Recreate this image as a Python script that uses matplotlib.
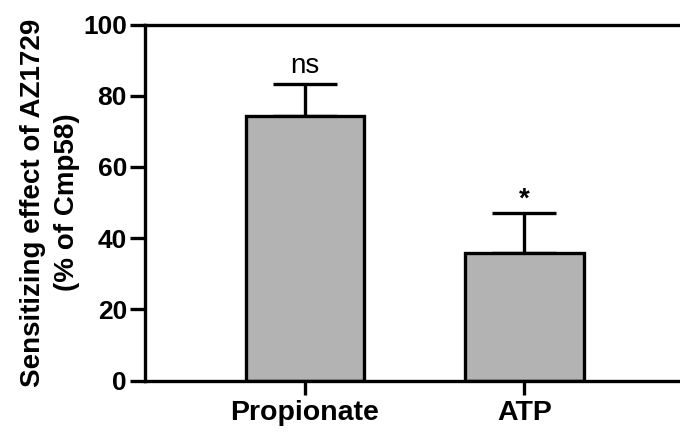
import matplotlib
matplotlib.use("Agg")
import matplotlib.pyplot as plt

categories = ["Propionate", "ATP"]
values = [74.2, 35.8]
errors = [9.1, 11.4]
labels = ["ns", "*"]

plt.rcParams['font.family'] = ['Liberation Sans', 'DejaVu Sans']

fig = plt.figure(figsize=(6.8, 4.32), dpi=100)
ax = fig.add_axes([145/680, 1 - 380.7/432, 1 - 145/680, (380.7 - 24.5)/432])

x = list(range(len(categories)))
ax.bar(x, values, width=0.54, color='#b3b3b3', edgecolor='black', linewidth=2.4, zorder=2)
ax.errorbar(x, values, yerr=[[0]*len(errors), errors], fmt='none', ecolor='black',
            elinewidth=2.4, capsize=23, capthick=2.4, zorder=1)

ax.set_xlim(-0.73, 1.71)
ax.set_ylim(0, 100)
ax.set_yticks([0, 20, 40, 60, 80, 100])
ax.set_xticks(x)
ax.set_xticklabels(categories, fontsize=20.5, fontweight='bold')
for lab in ax.get_yticklabels():
    lab.set_fontsize(19)
    lab.set_fontweight('bold')

for s in ['left', 'bottom', 'top']:
    ax.spines[s].set_linewidth(2.4)
ax.spines['right'].set_visible(False)
ax.tick_params(axis='y', length=11, width=2.4, pad=2)
ax.tick_params(axis='x', length=10, width=2.4, pad=4)

offsets = [8, 4]
weights = ['normal', 'bold']
for i, (v, e, t) in enumerate(zip(values, errors, labels)):
    ax.annotate(t, xy=(i, v + e), xytext=(0, offsets[i]), textcoords='offset points',
                ha='center', va='baseline', fontsize=20, fontweight=weights[i])

ax.set_ylabel("Sensitizing effect of AZ1729\n(% of Cmp58)", fontsize=20,
              fontweight='bold', linespacing=1.4, labelpad=2)

fig.savefig("out.png", dpi=100)
